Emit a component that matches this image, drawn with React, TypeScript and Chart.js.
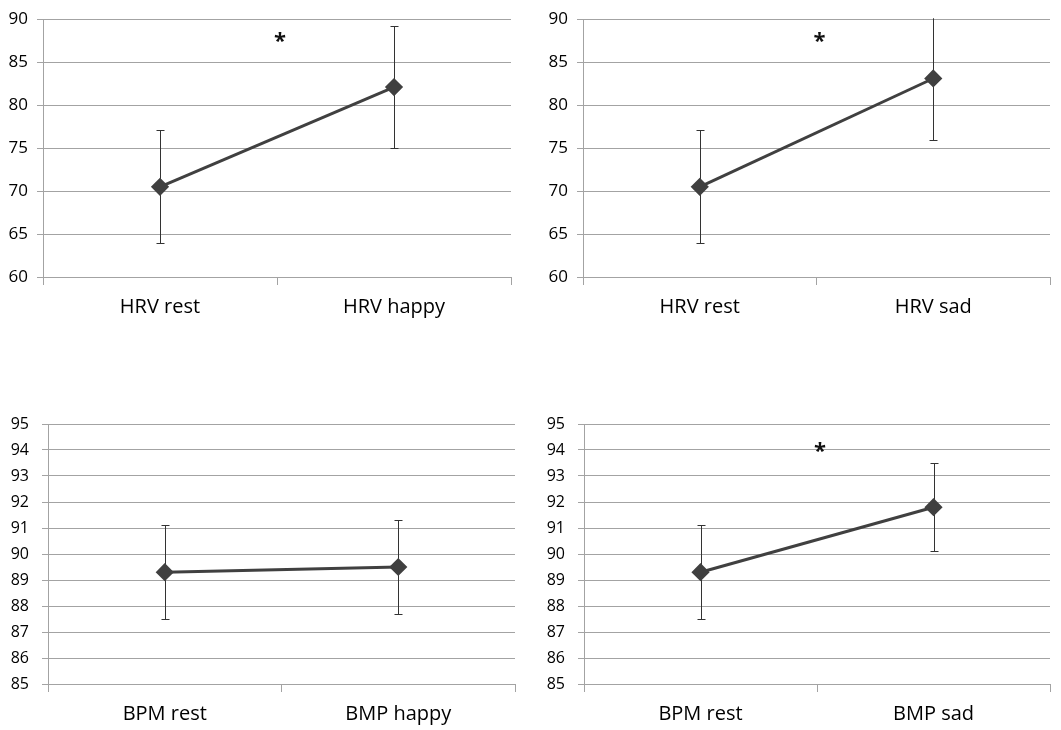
import React, { useEffect, useRef } from "react";
import { Chart, registerables } from "chart.js";

Chart.register(...registerables);

// Panel A: HRV rest vs happy
const hrvHappyLabels = ["HRV rest", "HRV happy"];
const hrvHappyMeans = [70.5, 82.1];
const hrvHappyLow = [63.9, 75.0];
const hrvHappyHigh = [77.1, 89.2];
const hrvHappyStar = 87.9;

// Panel B: HRV rest vs sad
const hrvSadLabels = ["HRV rest", "HRV sad"];
const hrvSadMeans = [70.5, 83.1];
const hrvSadLow = [63.9, 75.9];
const hrvSadHigh = [77.1, 90.3];
const hrvSadStar = 87.9;

// Panel C: BPM rest vs happy
const bpmHappyLabels = ["BPM rest", "BMP happy"];
const bpmHappyMeans = [89.3, 89.5];
const bpmHappyLow = [87.5, 87.7];
const bpmHappyHigh = [91.1, 91.3];
const bpmHappyStar: number | null = null;

// Panel D: BPM rest vs sad
const bpmSadLabels = ["BPM rest", "BMP sad"];
const bpmSadMeans = [89.3, 91.8];
const bpmSadLow = [87.5, 90.1];
const bpmSadHigh = [91.1, 93.5];
const bpmSadStar = 94.1;

// Axis ranges
const hrvAxis = { min: 60, max: 90, step: 5 };
const bpmAxis = { min: 85, max: 95, step: 1 };

const GRID = "#a3a3a3";
const LINE = "#404040";
const ERR = "#333333";
const TEXT = "#000000";
const FONT = "'Open Sans', 'DejaVu Sans', sans-serif";

const errPlugin = {
  id: "errbars",
  beforeDatasetsDraw(chart: any, _args: any, opts: any) {
    const { ctx, chartArea } = chart;
    const x = chart.scales.x;
    const y = chart.scales.y;
    ctx.save();
    ctx.beginPath();
    ctx.rect(chartArea.left, chartArea.top - 1, chartArea.right - chartArea.left, chartArea.bottom - chartArea.top + 2);
    ctx.clip();
    ctx.strokeStyle = ERR;
    ctx.lineWidth = 1;
    (opts.low || []).forEach((lo: number, i: number) => {
      const hi = opts.high[i];
      const px = Math.round(x.getPixelForValue(i)) + 0.5;
      const pl = Math.round(y.getPixelForValue(lo)) + 0.5;
      const ph = Math.round(y.getPixelForValue(hi)) + 0.5;
      ctx.beginPath();
      ctx.moveTo(px, pl);
      ctx.lineTo(px, ph);
      ctx.moveTo(px - 4, pl);
      ctx.lineTo(px + 4, pl);
      ctx.moveTo(px - 4, ph);
      ctx.lineTo(px + 4, ph);
      ctx.stroke();
    });
    ctx.restore();
  },
  afterDatasetsDraw(chart: any, _args: any, opts: any) {
    if (opts.star == null) return;
    const { ctx } = chart;
    const x = chart.scales.x;
    const y = chart.scales.y;
    const px = (x.getPixelForValue(0) + x.getPixelForValue(1)) / 2 + 3;
    const py = y.getPixelForValue(opts.star);
    ctx.save();
    ctx.fillStyle = "#111";
    ctx.font = `bold 22px ${FONT}`;
    ctx.textAlign = "center";
    ctx.textBaseline = "middle";
    ctx.fillText("*", px, py + 4);
    ctx.restore();
  },
};

type PanelProps = {
  left: number;
  top: number;
  w: number;
  h: number;
  area: { l: number; t: number; r: number; b: number };
  labels: string[];
  means: number[];
  low: number[];
  high: number[];
  star: number | null;
  axis: { min: number; max: number; step: number };
  tickSize: number;
  tickPad: number;
};

function Panel(p: PanelProps) {
  const ref = useRef<HTMLCanvasElement>(null);
  useEffect(() => {
    if (!ref.current) return;
    const chart = new Chart(ref.current, {
      type: "line",
      data: {
        labels: p.labels,
        datasets: [
          {
            data: p.means,
            borderColor: LINE,
            backgroundColor: LINE,
            borderWidth: 3,
            pointStyle: "rectRot",
            pointRadius: 7,
            pointBackgroundColor: LINE,
            pointBorderColor: LINE,
            tension: 0,
          },
        ],
      },
      options: {
        responsive: false,
        animation: false,
        devicePixelRatio: 1,
        layout: {
          padding: { left: 0, top: p.area.t, right: p.w - p.area.r, bottom: 0 },
        },
        plugins: {
          legend: { display: false },
          tooltip: { enabled: false },
          errbars: { low: p.low, high: p.high, star: p.star },
        } as any,
        scales: {
          x: {
            type: "category",
            offset: true,
            grid: {
              offset: true,
              drawOnChartArea: false,
              drawTicks: true,
              tickLength: 8,
              color: GRID,
            },
            border: { display: true, color: GRID },
            ticks: {
              color: TEXT,
              font: { family: FONT, size: 20 },
              padding: 10,
            },
            afterFit: (s: any) => {
              s.height = p.h - p.area.b;
            },
          },
          y: {
            min: p.axis.min,
            max: p.axis.max,
            ticks: {
              stepSize: p.axis.step,
              color: TEXT,
              font: { family: FONT, size: p.tickSize },
              padding: p.tickPad,
            },
            grid: { color: GRID, tickLength: 6 },
            border: { display: true, color: GRID },
            afterFit: (s: any) => {
              s.width = p.area.l;
            },
          },
        },
      },
      plugins: [errPlugin],
    });
    return () => chart.destroy();
  }, []);
  return (
    <canvas
      ref={ref}
      width={p.w}
      height={p.h}
      style={{ position: "absolute", left: p.left, top: p.top, width: p.w, height: p.h }}
    />
  );
}

export default function App() {
  return (
    <div style={{ position: "absolute", left: 0, top: 0, width: 1061, height: 730, background: "#fff" }}>
      <Panel
        left={0}
        top={0}
        w={530}
        h={335}
        area={{ l: 43, t: 17, r: 511, b: 277 }}
        labels={hrvHappyLabels}
        means={hrvHappyMeans}
        low={hrvHappyLow}
        high={hrvHappyHigh}
        star={hrvHappyStar}
        axis={hrvAxis}
        tickSize={17}
        tickPad={9}
      />
      <Panel
        left={530}
        top={0}
        w={531}
        h={335}
        area={{ l: 53, t: 17, r: 520, b: 277 }}
        labels={hrvSadLabels}
        means={hrvSadMeans}
        low={hrvSadLow}
        high={hrvSadHigh}
        star={hrvSadStar}
        axis={hrvAxis}
        tickSize={17}
        tickPad={9}
      />
      <Panel
        left={0}
        top={400}
        w={530}
        h={330}
        area={{ l: 48, t: 24, r: 515, b: 284 }}
        labels={bpmHappyLabels}
        means={bpmHappyMeans}
        low={bpmHappyLow}
        high={bpmHappyHigh}
        star={bpmHappyStar}
        axis={bpmAxis}
        tickSize={16}
        tickPad={13}
      />
      <Panel
        left={530}
        top={400}
        w={531}
        h={330}
        area={{ l: 54, t: 24, r: 520, b: 284 }}
        labels={bpmSadLabels}
        means={bpmSadMeans}
        low={bpmSadLow}
        high={bpmSadHigh}
        star={bpmSadStar}
        axis={bpmAxis}
        tickSize={16}
        tickPad={13}
      />
    </div>
  );
}
